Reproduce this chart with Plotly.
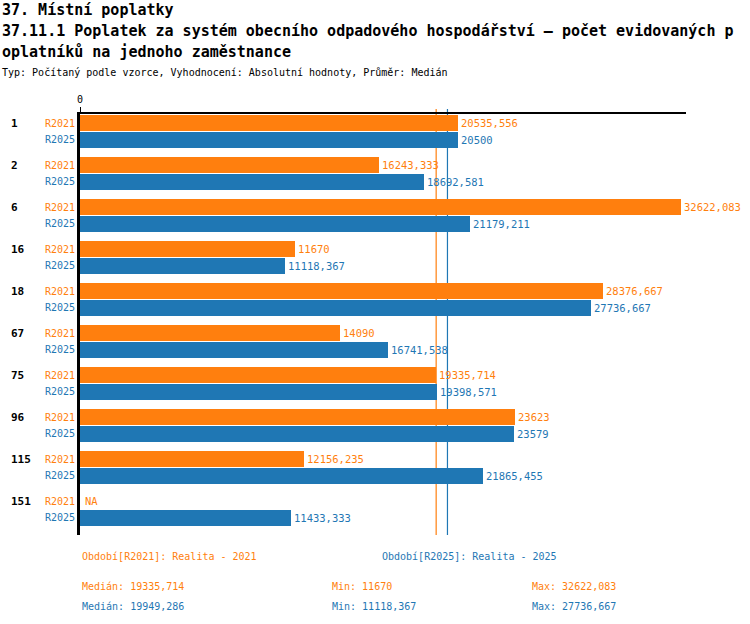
import plotly.graph_objects as go

# data
skupiny = ["1", "2", "6", "16", "18", "67", "75", "96", "115", "151"]
r2021 = [20535.556, 16243.333, 32622.083, 11670, 28376.667, 14090, 19335.714, 23623, 12156.235, None]
r2025 = [20500, 18692.581, 21179.211, 11118.367, 27736.667, 16741.538, 19398.571, 23579, 21865.455, 11433.333]
obdobi = ["R2021", "R2025"]
popisky = ["Období[R2021]: Realita - 2021", "Období[R2025]: Realita - 2025"]

ORANZ = "#ff7f0e"
MODRA = "#1f77b4"
FONT = "DejaVu Sans Mono"

W, H = 750, 624
L, R, T, B = 80, 64, 114, 89
pw, ph = W - L - R, H - T - B


def px_x(px):
    return (px - L) / pw


def px_y(py):
    return (H - B - py) / ph


def fmt(v):
    if v is None:
        return "NA"
    s = f"{v + 1e-9:.3f}".rstrip("0").rstrip(".")
    return s.replace(".", ",")


def median(vals):
    v = sorted(x for x in vals if x is not None)
    n = len(v)
    return v[n // 2] if n % 2 else (v[n // 2 - 1] + v[n // 2]) / 2


# pozice radku
pitch = 2.5
y21 = [i * pitch for i in range(len(skupiny))]
y25 = [i * pitch + 1 for i in range(len(skupiny))]

fig = go.Figure()
for vals, ys, col in [(r2021, y21, ORANZ), (r2025, y25, MODRA)]:
    fig.add_trace(go.Bar(
        x=vals, y=ys, orientation="h", width=0.93,
        marker=dict(color=col, line=dict(width=0)),
        text=[fmt(v) if v is not None else "" for v in vals],
        textposition="outside", constraintext="none", cliponaxis=False,
        textfont=dict(family=FONT, size=10.5, color=col),
        showlegend=False, hoverinfo="skip"
    ))

ann = []
# NA hodnoty
for vals, ys, col in [(r2021, y21, ORANZ), (r2025, y25, MODRA)]:
    for v, y in zip(vals, ys):
        if v is None:
            ann.append(dict(x=0, y=y, xref="x", yref="y", text="NA", showarrow=False,
                            xanchor="left", xshift=3, font=dict(family=FONT, size=10.5, color=col)))

# popisky radku
for g, a, b in zip(skupiny, y21, y25):
    ann.append(dict(x=px_x(9), y=a, xref="paper", yref="y", text="<b>" + g + "</b>", showarrow=False,
                    xanchor="left", yanchor="middle", font=dict(family=FONT, size=11, color="black")))
    ann.append(dict(x=0, y=a, xref="paper", yref="y", text=obdobi[0], showarrow=False,
                    xanchor="right", yanchor="middle", xshift=-3, font=dict(family=FONT, size=10, color=ORANZ)))
    ann.append(dict(x=0, y=b, xref="paper", yref="y", text=obdobi[1], showarrow=False,
                    xanchor="right", yanchor="middle", xshift=-3, font=dict(family=FONT, size=10, color=MODRA)))

# nadpisy
nadpisy = [
    ("<b>37. Místní poplatky</b>", 10, 15),
    ("<b>37.11.1 Poplatek za systém obecního odpadového hospodářství – počet evidovaných p</b>", 31, 15),
    ("<b>oplatníků na jednoho zaměstnance</b>", 52, 15),
    ("Typ: Počítaný podle vzorce, Vyhodnocení: Absolutní hodnoty, Průměr: Medián", 73, 10),
]
for txt, py, sz in nadpisy:
    ann.append(dict(x=px_x(0), y=px_y(py), xref="paper", yref="paper", text=txt, showarrow=False,
                    xanchor="left", yanchor="middle", font=dict(family=FONT, size=sz, color="black")))

# legenda a statistiky dole
ann.append(dict(x=px_x(80), y=px_y(556), xref="paper", yref="paper", text=popisky[0], showarrow=False,
                xanchor="left", yanchor="middle", font=dict(family=FONT, size=10, color=ORANZ)))
ann.append(dict(x=px_x(380), y=px_y(556), xref="paper", yref="paper", text=popisky[1], showarrow=False,
                xanchor="left", yanchor="middle", font=dict(family=FONT, size=10, color=MODRA)))
for vals, py, col in [(r2021, 586, ORANZ), (r2025, 606, MODRA)]:
    v = [x for x in vals if x is not None]
    for txt, px in [("Medián: " + fmt(median(vals)), 80), ("Min: " + fmt(min(v)), 330), ("Max: " + fmt(max(v)), 530)]:
        ann.append(dict(x=px_x(px), y=px_y(py), xref="paper", yref="paper", text=txt, showarrow=False,
                        xanchor="left", yanchor="middle", font=dict(family=FONT, size=10, color=col)))

# medianove cary
shapes = []
for vals, col in [(r2021, ORANZ), (r2025, MODRA)]:
    m = median(vals)
    shapes.append(dict(type="line", x0=m, x1=m, xref="x", yref="paper", y0=0, y1=1 + 5 / ph,
                       line=dict(color=col, width=1.2), layer="below"))

maxval = max(x for x in r2021 + r2025 if x is not None)

fig.update_layout(
    width=W, height=H,
    margin=dict(l=L, r=R, t=T, b=B),
    plot_bgcolor="white", paper_bgcolor="white",
    barmode="overlay", bargap=0,
    annotations=ann, shapes=shapes,
    font=dict(family=FONT, size=10, color="black"),
    xaxis=dict(range=[0, maxval * 1.0085], side="top", showgrid=False, zeroline=False,
               showline=True, linecolor="black", linewidth=1.5,
               tickvals=[0], ticktext=["0"], ticks="outside", ticklen=5, tickcolor="black",
               tickfont=dict(family=FONT, size=10, color="black")),
    yaxis=dict(range=[24.52, -0.54], showgrid=False, zeroline=False, showticklabels=False,
               showline=True, linecolor="black", linewidth=2.5, ticks=""),
)

# bez okraje stranky, at graf sedi od leveho horniho rohu
fig.write_html("out.html", config={"displayModeBar": False},
               post_script="document.body.style.margin='0';")
